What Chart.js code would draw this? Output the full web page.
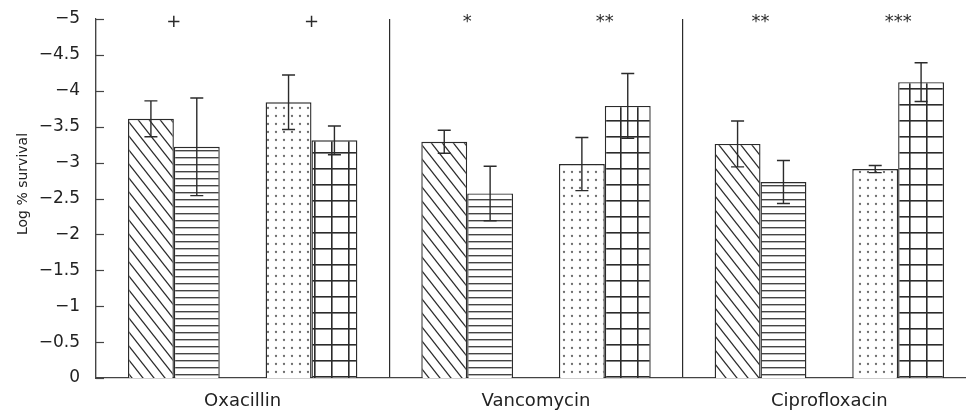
<!DOCTYPE html>
<html>
<head>
<meta charset="utf-8">
<script src="https://cdn.jsdelivr.net/npm/chart.js@4.4.1/dist/chart.umd.min.js"></script>
<style>
  html, body { margin: 0; padding: 0; background: #fff; overflow: hidden; }
  #wrap { width: 976px; height: 416px; }
</style>
</head>
<body>
<div id="wrap"><canvas id="graph" width="976" height="416"></canvas></div>
<script>
// values
const categories = ['Oxacillin', 'Vancomycin', 'Ciprofloxacin'];
const diagVals = [-3.61, -3.29, -3.26];
const diagErr = [0.25, 0.16, 0.32];
const horizVals = [-3.22, -2.57, -2.73];
const horizErr = [0.68, 0.38, 0.30];
const dotVals = [-3.84, -2.98, -2.91];
const dotErr = [0.38, 0.37, 0.05];
const gridVals = [-3.31, -3.79, -4.12];
const gridErr = [0.20, 0.45, 0.27];
const marksLeft = ['+', '*', '**'];
const marksRight = ['+', '**', '***'];
const yTicks = [0, -0.5, -1, -1.5, -2, -2.5, -3, -3.5, -4, -4.5, -5];

const INK = '#2b2b2b';
const FONT = '"DejaVu Sans", sans-serif';

function tile(w, h, draw) {
  const c = document.createElement('canvas');
  c.width = w; c.height = h;
  const g = c.getContext('2d');
  g.fillStyle = '#fff';
  g.fillRect(0, 0, w, h);
  draw(g, w, h);
  return document.getElementById('graph').getContext('2d').createPattern(c, 'repeat');
}

const diagPattern = tile(11, 14, (g, w, h) => {
  g.strokeStyle = INK; g.lineWidth = 1.3;
  for (let k = -1; k <= 1; k++) {
    g.beginPath();
    g.moveTo(k * w - w, -h);
    g.lineTo(k * w + 2 * w, 2 * h);
    g.stroke();
  }
});
const horizPattern = tile(8, 7, (g, w, h) => {
  g.fillStyle = '#444';
  g.fillRect(0, 3, w, 1.4);
});
const dotPattern = tile(8, 8, (g) => {
  g.fillStyle = '#6e6e6e';
  g.beginPath();
  g.arc(4, 4, 1.15, 0, Math.PI * 2);
  g.fill();
});
const gridPattern = tile(17, 16, (g, w, h) => {
  g.fillStyle = INK;
  g.fillRect(8, 0, 1.6, h);
  g.fillRect(0, 8, w, 1.6);
});

const errorSets = [diagErr, horizErr, null, dotErr, gridErr];

const extras = {
  id: 'extras',
  afterDatasetsDraw(chart) {
    const ctx = chart.ctx;
    const y = chart.scales.y;
    const area = chart.chartArea;
    ctx.save();
    ctx.strokeStyle = INK;
    ctx.lineWidth = 1.4;
    // error bars
    chart.data.datasets.forEach((ds, di) => {
      const errs = errorSets[di];
      if (!errs) return;
      chart.getDatasetMeta(di).data.forEach((el, i) => {
        const m = ds.data[i];
        const yTop = y.getPixelForValue(m - errs[i]);
        const yBot = y.getPixelForValue(m + errs[i]);
        ctx.beginPath();
        ctx.moveTo(el.x, yTop); ctx.lineTo(el.x, yBot);
        ctx.moveTo(el.x - 6.5, yTop); ctx.lineTo(el.x + 6.5, yTop);
        ctx.moveTo(el.x - 6.5, yBot); ctx.lineTo(el.x + 6.5, yBot);
        ctx.stroke();
      });
    });
    // inward ticks on y axis
    ctx.lineWidth = 1.2;
    ctx.strokeStyle = '#444';
    yTicks.forEach(v => {
      const py = Math.round(y.getPixelForValue(v)) + 0.5;
      ctx.beginPath();
      ctx.moveTo(area.left, py); ctx.lineTo(area.left + 8, py);
      ctx.stroke();
    });
    // significance marks
    ctx.fillStyle = INK;
    ctx.font = '18px ' + FONT;
    ctx.textAlign = 'center';
    ctx.textBaseline = 'middle';
    const m0 = chart.getDatasetMeta(0).data, m1 = chart.getDatasetMeta(1).data;
    const m3 = chart.getDatasetMeta(3).data, m4 = chart.getDatasetMeta(4).data;
    categories.forEach((c, i) => {
      ctx.fillText(marksLeft[i], (m0[i].x + m1[i].x) / 2, area.top + 3);
      ctx.fillText(marksRight[i], (m3[i].x + m4[i].x) / 2, area.top + 3);
    });
    // y axis title
    ctx.save();
    ctx.translate(23, 184);
    ctx.rotate(-Math.PI / 2);
    ctx.font = '14px ' + FONT;
    ctx.fillStyle = '#222';
    ctx.fillText('Log % survival', 0, 0);
    ctx.restore();
    ctx.restore();
  }
};

const barStyle = { borderColor: INK, borderWidth: 1.4 };

new Chart(document.getElementById('graph'), {
  type: 'bar',
  data: {
    labels: categories,
    datasets: [
      { label: 'a', data: diagVals, backgroundColor: diagPattern, ...barStyle },
      { label: 'b', data: horizVals, backgroundColor: horizPattern, ...barStyle },
      { label: '', data: [null, null, null] },
      { label: 'c', data: dotVals, backgroundColor: dotPattern, ...barStyle },
      { label: 'd', data: gridVals, backgroundColor: gridPattern, ...barStyle }
    ]
  },
  options: {
    responsive: false,
    animation: false,
    devicePixelRatio: 1,
    layout: { padding: { top: 19, left: 0, right: 0, bottom: 0 } },
    datasets: { bar: { categoryPercentage: 0.782, barPercentage: 1.0 } },
    plugins: { legend: { display: false }, tooltip: { enabled: false } },
    scales: {
      x: {
        offset: true,
        grid: { display: true, offset: true, drawTicks: false, color: INK, lineWidth: 1.2 },
        border: { display: true, color: '#444', width: 1.2 },
        ticks: { color: '#222', font: { family: FONT, size: 18 }, padding: 13 },
        afterFit(scale) { scale.height = 38; }
      },
      y: {
        reverse: true,
        min: -5,
        max: 0,
        grid: { display: false },
        border: { display: true, color: '#444', width: 1.2 },
        ticks: {
          stepSize: 0.5,
          padding: 8,
          color: '#222',
          font: { family: FONT, size: 17 },
          callback: v => v === 0 ? '0' : '\u2212' + Math.abs(v)
        },
        afterFit(scale) { scale.width = 96; }
      }
    }
  },
  plugins: [extras]
});
</script>
</body>
</html>
